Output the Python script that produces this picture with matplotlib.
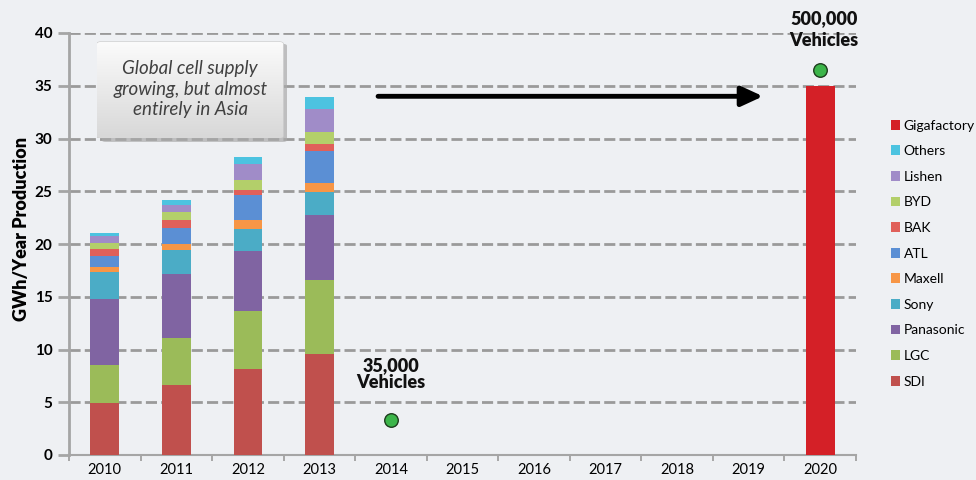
import numpy as np
import matplotlib.pyplot as plt
from matplotlib.patches import FancyBboxPatch
from matplotlib.colors import LinearSegmentedColormap

plt.rcParams['font.family'] = ['Lato', 'DejaVu Sans']

# data (GWh / year)
years = ['2010', '2011', '2012', '2013', '2014', '2015', '2016', '2017', '2018', '2019', '2020']
makers = ['SDI', 'LGC', 'Panasonic', 'Sony', 'Maxell', 'ATL', 'BAK', 'BYD', 'Lishen', 'Others']
sdi = [4.9, 6.6, 8.15, 9.55]
lgc = [3.6, 4.5, 5.5, 7.05]
panasonic = [6.3, 6.1, 5.7, 6.15]
sony = [2.5, 2.2, 2.1, 2.15]
maxell = [0.55, 0.6, 0.8, 0.85]
atl = [1.0, 1.55, 2.35, 3.05]
bak = [0.65, 0.7, 0.55, 0.65]
byd = [0.6, 0.75, 0.9, 1.15]
lishen = [0.65, 0.65, 1.5, 2.2]
others = [0.3, 0.5, 0.65, 1.1]
gigafactory = 35.0
vehicle_pts_x = ['2014', '2020']
vehicle_pts_y = [3.3, 36.5]

colors = ['#c0504d', '#9bbb59', '#8064a2', '#4bacc6', '#f79646',
          '#5b8fd4', '#e0605a', '#b3cf6a', '#a08cc8', '#4cc3e0']
giga_color = '#d42027'
bg = '#eef0f3'

fig = plt.figure(figsize=(9.76, 4.8), dpi=100, facecolor=bg)
ax = fig.add_axes([69 / 976, 25 / 480, 787 / 976, 422 / 480], facecolor=bg)

x = np.arange(len(years))
series = [sdi, lgc, panasonic, sony, maxell, atl, bak, byd, lishen, others]
bottom = np.zeros(4)
handles = []
for name, vals, c in zip(makers, series, colors):
    b = ax.bar(x[:4], vals, 0.4, bottom=bottom, color=c, label=name, zorder=3)
    handles.append(b)
    bottom += np.array(vals)
g = ax.bar(x[-1], gigafactory, 0.4, color=giga_color, label='Gigafactory', zorder=3)
handles.append(g)

# vehicle markers
px = [years.index(v) for v in vehicle_pts_x]
ax.scatter(px, vehicle_pts_y, s=95, color='#3cb54a', edgecolor='#1d3d1d', linewidth=1, zorder=5, clip_on=False)

lbl = dict(ha='center', va='center', fontsize=13, fontweight='heavy', color='#111111', clip_on=False)
ax.text(4, 8.5, '35,000', **lbl)
ax.text(4, 6.9, 'Vehicles', **lbl)
ax.text(10.05, 41.4, '500,000', **lbl)
ax.text(10.05, 39.3, 'Vehicles', **lbl)

# arrow
ax.annotate('', xy=(9.2, 34.0), xytext=(3.82, 34.0),
            arrowprops=dict(arrowstyle='-|>,head_length=1.3,head_width=0.6',
                            lw=3.5, color='black', shrinkA=0, shrinkB=0), zorder=4)

ax.set_xlim(-0.5, 10.5)
ax.set_ylim(0, 40)
ax.set_yticks(range(0, 41, 5))
ax.set_xticks(x)
ax.set_xticklabels(years)
ax.set_xticks(np.arange(-0.5, 11, 1), minor=True)
ax.tick_params(axis='x', which='major', length=0, labelsize=10.5, pad=6)
ax.tick_params(axis='x', which='minor', length=4, width=1.2, color='#9a9a9a')
ax.tick_params(axis='y', length=8, width=2, color='#a5a5a5', labelsize=11, pad=4)
for lab in ax.get_yticklabels():
    lab.set_fontweight('bold')
ax.yaxis.grid(True, color='#9a9a9a', linestyle=(0, (4, 1.5)), linewidth=2, zorder=0)
ax.set_axisbelow(True)
for s in ['top', 'right']:
    ax.spines[s].set_visible(False)
ax.spines['left'].set_color('#a5a5a5')
ax.spines['left'].set_linewidth(2)
ax.spines['bottom'].set_color('#a5a5a5')
ax.spines['bottom'].set_linewidth(1.5)
ax.set_ylabel('GWh/Year Production', fontsize=13, fontweight='heavy')
ax.yaxis.set_label_coords(-0.05, 0.535)

# legend, reversed order
leg_handles = handles[::-1]
leg_labels = ['Gigafactory'] + makers[::-1]
fig.legend(leg_handles, leg_labels, loc='upper left', bbox_to_anchor=(878 / 976, 1 - 107 / 480),
           frameon=False, fontsize=10, handlelength=0.7, handleheight=0.7,
           handletextpad=0.25, labelspacing=0.98)

# callout box with gradient
bx = fig.add_axes([97 / 976, 1 - 138 / 480, 190 / 976, 98 / 480])
bx.set_xlim(0, 1)
bx.set_ylim(0, 1)
bx.axis('off')
shadow = FancyBboxPatch((0.025, -0.04), 0.975, 1.0, boxstyle='round,pad=0,rounding_size=0.02',
                        facecolor='#aaaaaa', edgecolor='none', alpha=0.7, clip_on=False, zorder=1)
bx.add_patch(shadow)
box = FancyBboxPatch((0.0, 0.0), 0.98, 0.98, boxstyle='round,pad=0,rounding_size=0.02',
                     facecolor='#f0f0f0', edgecolor='#c8c8c8', linewidth=0.8, zorder=2)
bx.add_patch(box)
grad = np.linspace(0, 1, 100).reshape(-1, 1)
cmap = LinearSegmentedColormap.from_list('g', ['#d8d8d8', '#fbfbfb'])
im = bx.imshow(grad, extent=(0, 0.98, 0, 0.98), cmap=cmap, aspect='auto', origin='lower',
               vmin=0, vmax=1, zorder=3)
im.set_clip_path(box)
bx.text(0.49, 0.5, 'Global cell supply\ngrowing, but almost\nentirely in Asia', ha='center', va='center',
        fontsize=13.5, style='italic', color='#404040', linespacing=1.25, zorder=4)

fig.savefig('out.png', dpi=100, facecolor=bg)
